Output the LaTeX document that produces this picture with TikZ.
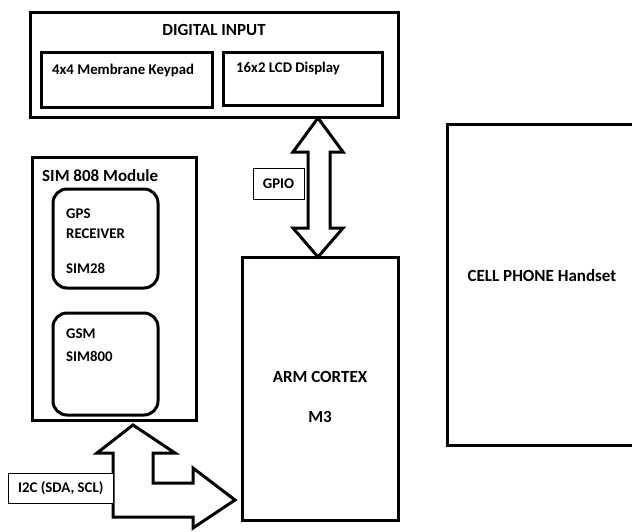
\documentclass[tikz,border=0pt]{standalone}
\usepackage{fontspec}
\setmainfont{Carlito}
\begin{document}
\begin{tikzpicture}[x=1pt,y=-1pt,
  thickbox/.style={draw=black,line width=3pt,inner sep=0pt},
  roundbox/.style={draw=black,line width=3pt,rounded corners=14pt,inner sep=0pt},
  labelbox/.style={draw=black,line width=0.8pt,fill=white,inner sep=0pt},
  bigarrow/.style={draw=black,line width=3pt,fill=white,line join=miter},
  txt/.style={font=\fontsize{14.8}{17}\selectfont\bfseries,inner sep=0pt,text=black},
  txtl/.style={txt,anchor=west},
  bigtxt/.style={font=\fontsize{17}{20}\selectfont\bfseries,inner sep=0pt,text=black}]
\useasboundingbox (0,0) rectangle (632,531);
% boxes
\node[thickbox,minimum width=368pt,minimum height=105pt] (di) at (214,65) {};
\node[thickbox,minimum width=171pt,minimum height=55pt] (kp) at (126.5,79.5) {};
\node[thickbox,minimum width=159pt,minimum height=53pt] (lcd) at (302.5,78.5) {};
\node[thickbox,minimum width=164pt,minimum height=263pt] (sim) at (114,288.5) {};
\node[roundbox,minimum width=105pt,minimum height=99pt] (gps) at (105.5,238.5) {};
\node[roundbox,minimum width=105pt,minimum height=102pt] (gsm) at (105.5,364) {};
\node[thickbox,minimum width=156pt,minimum height=263pt] (arm) at (320,388.5) {};
\node[thickbox,minimum width=200pt,minimum height=321pt] (cell) at (547,284.5) {};
% texts
\node[bigtxt] (tdi) at (214,30) {DIGITAL INPUT};
\node[txtl] (tkp) at (52,70) {4x4 Membrane Keypad};
\node[txtl] (tlcd) at (236,68) {16x2 LCD Display};
\node[bigtxt,anchor=west] (tsim) at (42,176) {SIM 808 Module};
\node[txtl] (tgps1) at (66,214) {GPS};
\node[txtl] (tgps2) at (66,234) {RECEIVER};
\node[txtl] (tgps3) at (66,268) {SIM28};
\node[txtl] (tgsm1) at (66,334) {GSM};
\node[txtl] (tgsm2) at (66,356) {SIM800};
\node[bigtxt] (tarm1) at (320,377) {ARM CORTEX};
\node[bigtxt] (tarm2) at (320,417) {M3};
\node[bigtxt] (tcell) at (542,276) {CELL PHONE Handset};
% GPIO double arrow
\draw[bigarrow] (318,118) -- (343,152) -- (330,152) -- (330,228) -- (343,228) -- (318,257)
  -- (293,228) -- (308,228) -- (308,152) -- (293,152) -- cycle;
\node[labelbox,minimum width=51pt,minimum height=31pt] (gpio) at (278.5,183.5) {};
\node[txt] (tgpio) at (278.5,184) {GPIO};
% I2C bent arrow
\draw[bigarrow] (133,425) -- (175,453) -- (153,453) -- (153,483) -- (193,483) -- (193,468)
  -- (235,500) -- (193,528) -- (193,517) -- (113,517) -- (113,453) -- (97,453) -- cycle;
\node[labelbox,minimum width=105pt,minimum height=30pt] (i2c) at (60.5,488) {};
\node[txtl] (ti2c) at (18,488) {I2C (SDA, SCL)};
\end{tikzpicture}
\end{document}
